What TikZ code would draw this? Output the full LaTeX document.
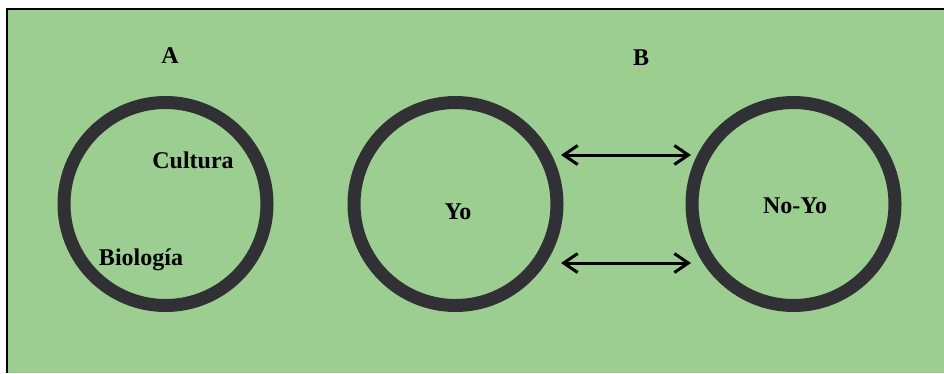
\documentclass[tikz,border=0pt]{standalone}
\usepackage{fontspec}
\setmainfont{Liberation Serif}
\usetikzlibrary{arrows.meta}
\definecolor{bg}{RGB}{156,206,145}
\definecolor{ring}{RGB}{48,48,53}
\tikzset{
  ringnode/.style={circle, draw=ring, line width=13pt, minimum size=203pt, inner sep=0pt},
  lbl/.style={font=\fontsize{24}{28}\selectfont\bfseries, inner sep=0pt},
  dbl/.style={line width=3pt, {Straight Barb[length=14pt,width=19pt,line width=3pt]}-{Straight Barb[length=14pt,width=19pt,line width=3pt]}}
}
\begin{document}
\begin{tikzpicture}[x=1pt,y=-1pt]
\useasboundingbox (0,0) rectangle (944,373);
\fill[bg] (7,9) rectangle (944,373);
\draw[line width=1.5pt] (7,373) -- (7,9) -- (944,9);
\node[ringnode] (ca) at (165.5,204) {};
\node[ringnode] (yo) at (455.5,204) {};
\node[ringnode] (noyo) at (793.5,204) {};
\node[lbl] (la) at (170,56) {A};
\node[lbl] (lb) at (641,58) {B};
\node[lbl] (cult) at (193,160) {Cultura};
\node[lbl] (bio) at (141,260) {Biología};
\node[lbl] (tyo) at (458,212) {Yo};
\node[lbl] (tnoyo) at (795,206) {No-Yo};
\coordinate (t1) at (561,155);
\coordinate (t2) at (691,155);
\coordinate (b1) at (561,263);
\coordinate (b2) at (691,263);
\draw[dbl] (t1) -- (t2);
\draw[dbl] (b1) -- (b2);
\end{tikzpicture}
\end{document}
